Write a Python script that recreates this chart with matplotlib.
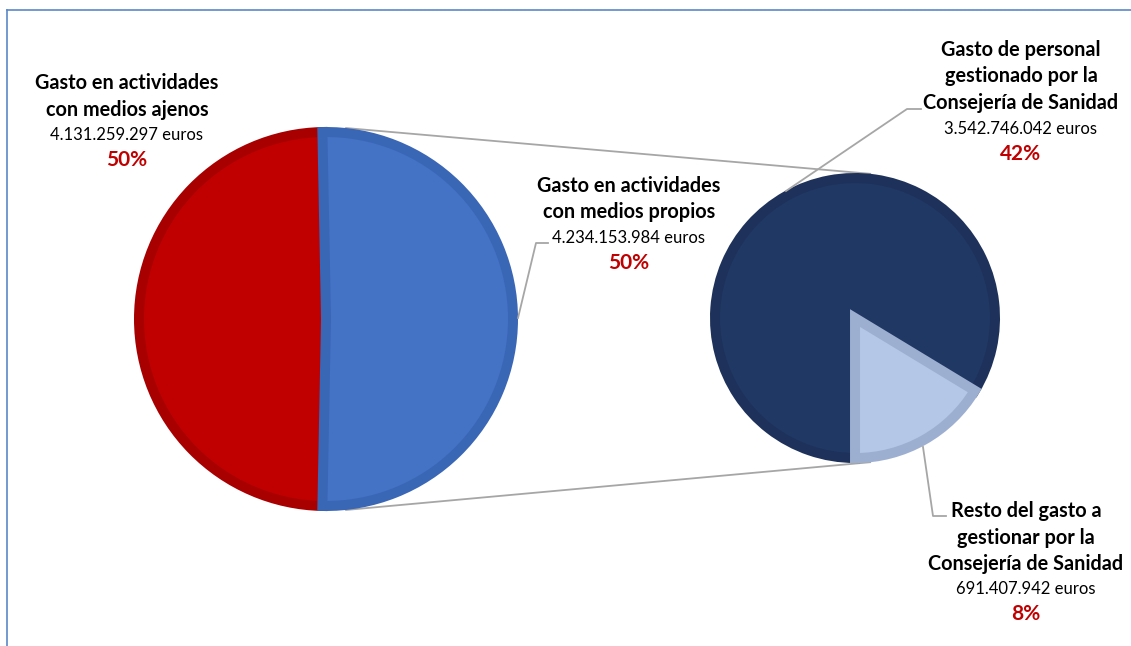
import numpy as np
import matplotlib
matplotlib.use("Agg")
import matplotlib.pyplot as plt

plt.rcParams["font.family"] = ["Lato", "DejaVu Sans"]

W, H = 1131, 646

# importes en euros
principal_valores = [4131259297, 4234153984]       # medios ajenos, medios propios
secundario_valores = [3542746042, 691407942]       # personal Consejería, resto

principal_nombres = ["Gasto en actividades\ncon medios ajenos",
                     "Gasto en actividades\ncon medios propios"]
secundario_nombres = ["Gasto de personal\ngestionado por la\nConsejería de Sanidad",
                      "Resto del gasto a\ngestionar por la\nConsejería de Sanidad"]
porcentajes = ["50%", "50%", "42%", "8%"]

ROJO, ROJO_BORDE = "#C00000", "#A80000"
AZUL, AZUL_BORDE = "#4472C4", "#3A66B6"
MARINO, MARINO_BORDE = "#203864", "#1D315A"
CELESTE, CELESTE_BORDE = "#B4C7E7", "#9DAFD0"
GRIS = "#A6A6A6"


def py(y):
    # coordenada vertical medida desde arriba
    return H - y


def euros(v):
    return f"{v:,}".replace(",", ".") + " euros"


fig = plt.figure(figsize=(W / 100, H / 100), dpi=100)
ax = fig.add_axes([0, 0, 1, 1])

# tarta principal
c1, r1 = (326, 319), 187
tot1 = sum(principal_valores)
ang_rojo = 360 * principal_valores[0] / tot1
w1, _ = ax.pie(principal_valores, radius=r1, center=(c1[0], py(c1[1])),
               startangle=180 - ang_rojo / 2, colors=[ROJO, AZUL],
               wedgeprops=dict(linewidth=7.2), frame=True)
for w, ec in zip(w1, [ROJO_BORDE, AZUL_BORDE]):
    w.set_edgecolor(ec)

# tarta secundaria (desglose de medios propios)
c2, r2 = (855, 318), 140
tot2 = sum(secundario_valores)
ang_resto = 360 * secundario_valores[1] / tot2
w2, _ = ax.pie(secundario_valores, radius=r2, center=(c2[0], py(c2[1])),
               startangle=ang_resto - 90, colors=[MARINO, CELESTE],
               explode=[0, 0.06], wedgeprops=dict(linewidth=7.2), frame=True)
for w, ec in zip(w2, [MARINO_BORDE, CELESTE_BORDE]):
    w.set_edgecolor(ec)

# líneas de unión entre ambas tartas
for a in (84, -84):
    t = np.deg2rad(a)
    x0 = c1[0] + (r1 + 5) * np.cos(t)
    y0 = py(c1[1]) + (r1 + 5) * np.sin(t)
    x1 = c2[0] + (r2 + 5) * np.cos(t)
    y1 = py(c2[1]) + (r2 + 5) * np.sin(t)
    ax.plot([x0, x1], [y0, y1], color=GRIS, lw=1.3, zorder=0)

# líneas guía de las etiquetas
guias = [
    [(518, 318), (536, 243), (548, 243)],
    [(786, 191), (907, 109), (921, 109)],
    [(923, 447), (933, 516), (946, 516)],
]
for g in guias:
    xs = [p[0] for p in g]
    ys = [py(p[1]) for p in g]
    ax.plot(xs, ys, color=GRIS, lw=1.3, zorder=3)


def etiqueta(x, y, nombre, valor, pct):
    lineas = nombre.split("\n")
    paso = 26.5
    for i, l in enumerate(lineas):
        ax.text(x, py(y + i * paso), l, ha="center", va="center",
                fontsize=14.3, fontweight="bold", color="black")
    yv = y + len(lineas) * paso - 1
    ax.text(x, py(yv), euros(valor), ha="center", va="center",
            fontsize=12, color="black")
    ax.text(x, py(yv + 25), pct, ha="center", va="center",
            fontsize=15, fontweight="bold", color=ROJO)


etiqueta(127, 83, principal_nombres[0], principal_valores[0], porcentajes[0])
etiqueta(629, 186, principal_nombres[1], principal_valores[1], porcentajes[1])
etiqueta(1021, 50, secundario_nombres[0], secundario_valores[0], porcentajes[2])
etiqueta(1026, 511, secundario_nombres[1], secundario_valores[1], porcentajes[3])

# borde del área del gráfico
ax.plot([7, W], [py(10), py(10)], color="#5B87C8", lw=1.2, zorder=5)
ax.plot([7, 7], [py(10), 0], color="#5B87C8", lw=1.2, zorder=5)

ax.set_xlim(0, W)
ax.set_ylim(0, H)
ax.set_aspect("auto")
ax.axis("off")

fig.savefig("out.png", dpi=100, facecolor="white")
